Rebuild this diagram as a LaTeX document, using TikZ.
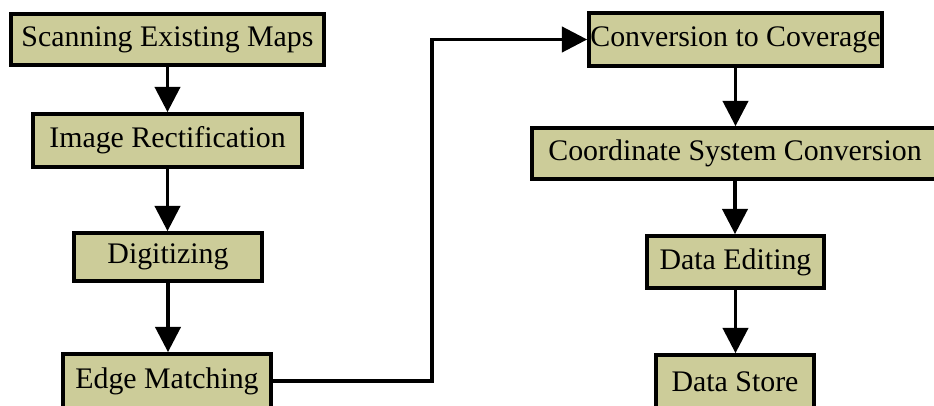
\documentclass[tikz,border=0pt]{standalone}
\usepackage{fontspec}
\setmainfont{Liberation Serif}
\usetikzlibrary{arrows.meta}
\definecolor{boxfill}{RGB}{204,204,153}
\tikzset{
  stepbox/.style={draw=black, fill=boxfill, line width=2.8pt, inner sep=1pt,
    font=\fontsize{22.4}{26}\selectfont, anchor=center},
  flow/.style={line width=2.6pt, -{Triangle[width=19pt,length=19pt]}}
}
\begin{document}
\begin{tikzpicture}[x=0.75pt,y=-0.75pt]
\useasboundingbox (0,0) rectangle (934,406);
\clip (0,0) rectangle (934,406);
\node[stepbox, minimum width=313*0.75pt, minimum height=51*0.75pt] (scan) at (167.5,39.5) {Scanning Existing Maps};
\node[stepbox, minimum width=269*0.75pt, minimum height=53*0.75pt] (rect) at (167.5,140.5) {Image Rectification};
\node[stepbox, minimum width=188*0.75pt, minimum height=48*0.75pt] (digi) at (168,257) {Digitizing};
\node[stepbox, minimum width=208*0.75pt, minimum height=54*0.75pt] (edge) at (167,381) {Edge Matching};
\node[stepbox, minimum width=289*0.75pt, minimum height=53*0.75pt] (conv) at (735.5,39.5) {Conversion to Coverage};
\node[stepbox, minimum width=406*0.75pt, minimum height=51*0.75pt] (coord) at (735,153.5) {Coordinate System Conversion};
\node[stepbox, minimum width=177*0.75pt, minimum height=52*0.75pt] (edit) at (735.5,262) {Data Editing};
\node[stepbox, minimum width=158*0.75pt, minimum height=53*0.75pt] (store) at (735,381.5) {Data Store};
\coordinate (bend) at (432,381);
\draw[flow] (scan.south) -- (scan.south |- rect.north);
\draw[flow] (rect.south) -- (rect.south |- digi.north);
\draw[flow] (digi.south) -- (digi.south |- edge.north);
\draw[flow] (edge.east) -- (bend) |- (conv.west);
\draw[flow] (conv.south) -- (conv.south |- coord.north);
\draw[flow] (coord.south) -- (coord.south |- edit.north);
\draw[flow] (edit.south) -- (edit.south |- store.north);
\end{tikzpicture}
\end{document}
